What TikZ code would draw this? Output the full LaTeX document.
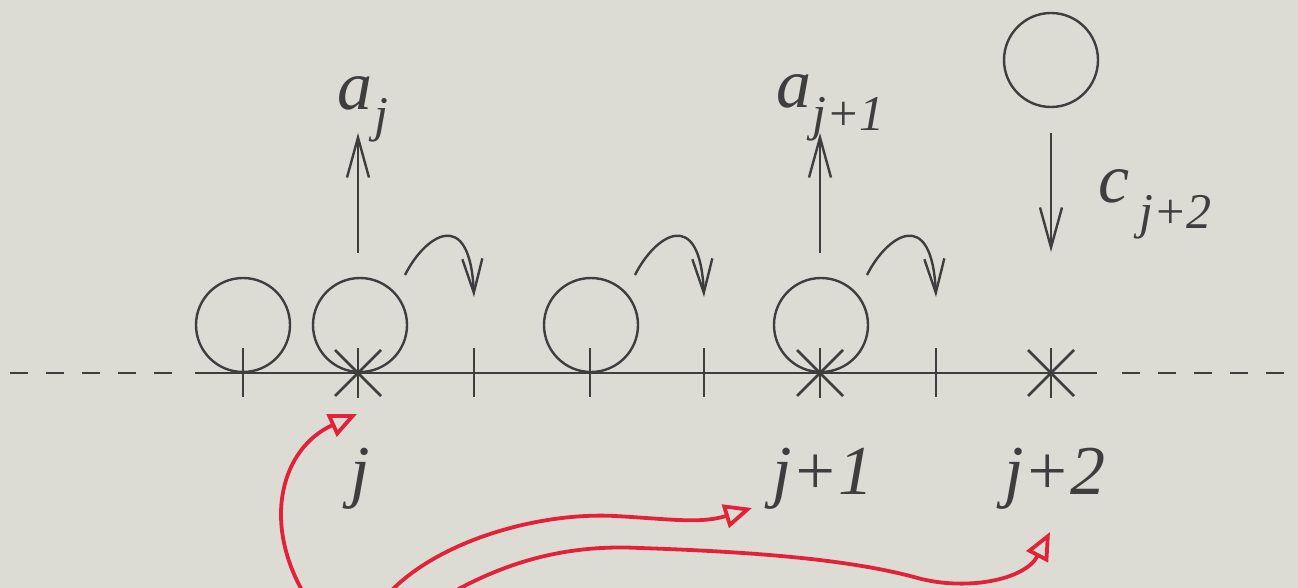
\documentclass[tikz,border=0pt]{standalone}
\usepackage{fontspec}
\setmainfont{Liberation Serif}
\usetikzlibrary{arrows.meta}
\definecolor{bg}{RGB}{220,220,213}
\definecolor{ink}{RGB}{62,62,62}
\definecolor{redink}{RGB}{226,34,56}
\begin{document}
\begin{tikzpicture}[x=1pt,y=-1pt,
  line/.style={draw=ink,line width=2.7pt},
  ball/.style={circle,draw=ink,line width=2.4pt,minimum size=94pt,inner sep=0pt},
  barb/.style={draw=ink,line width=2.4pt,-{Straight Barb[length=40pt,width=22pt]}},
  hop/.style={draw=ink,line width=2.4pt,-{Straight Barb[length=34pt,width=20pt]}},
  redarrow/.style={draw=redink,line width=3.8pt,line cap=round,line join=round,-{Triangle[open,length=28pt,width=24pt]}},
  lab/.style={inner sep=0pt,text=ink,font=\fontsize{70}{84}\selectfont\itshape},
  sublab/.style={inner sep=0pt,text=ink,font=\fontsize{50}{60}\selectfont\itshape}
]
\fill[bg] (0,0) rectangle (1298,588);
\useasboundingbox (0,0) rectangle (1298,588);

% axis
\draw[line] (195,373) -- (1097,373);
\draw[line,dash pattern=on 18pt off 18pt] (10,373) -- (178,373);
\draw[line,dash pattern=on 18pt off 18pt] (1122,373) -- (1292,373);

% ticks
\foreach \x in {243,474,590,704,936}{
  \draw[line] (\x,348) -- (\x,397);
}
% stars
\foreach \x in {358,820,1051}{
  \draw[line] (\x,348) -- (\x,398);
  \draw[line] (\x-23,350) -- (\x+23,396);
  \draw[line] (\x+23,350) -- (\x-23,396);
}

% circles
\node[ball] (b1) at (243,325) {};
\node[ball] (b2) at (360,325) {};
\node[ball] (b3) at (591,325) {};
\node[ball] (b4) at (821,325) {};
\node[ball] (b5) at (1051,60) {};

% straight arrows
\coordinate (u1s) at (358,253); \coordinate (u1e) at (358,133);
\coordinate (u2s) at (820,253); \coordinate (u2e) at (820,133);
\coordinate (d1s) at (1051,133); \coordinate (d1e) at (1051,252);
\draw[barb] (u1s) -- (u1e);
\draw[barb] (u2s) -- (u2e);
\draw[barb] (d1s) -- (d1e);

% hop arrows
\foreach \x/\n in {405/h1,635/h2,867/h3}{
  \coordinate (\n s) at (\x,275);
  \coordinate (\n e) at (\x+69,297);
  \draw[hop] (\n s) .. controls (\x+20,235) and (\x+65,205) .. (\n e);
}

% labels
\node[lab,anchor=base] (aj) at (355,110) {a};
\node[sublab,anchor=base] (ajs) at (381,132) {j};
\node[lab,anchor=base] (aj1) at (794,108) {a};
\node[sublab,anchor=base west] (aj1s) at (812,131) {j+1};
\node[lab,anchor=base] (cj) at (1114,203) {c};
\node[sublab,anchor=base west] (cjs) at (1139,229) {j+2};
\node[lab,anchor=base] (lj) at (360,494) {j};
\node[lab,anchor=base] (lj1) at (823,494) {j+1};
\node[lab,anchor=base] (lj2) at (1055,494) {j+2};

% red annotations
\coordinate (r1s) at (303,592); \coordinate (r1e) at (357,414);
\coordinate (r2s) at (390,592); \coordinate (r2e) at (752,508);
\coordinate (r3s) at (453,592); \coordinate (r3e) at (1050,532);
\draw[redarrow] (r1s) .. controls (262,520) and (282,448) .. (r1e);
\draw[redarrow] (r2s) .. controls (440,540) and (540,512) .. (615,516)
   .. controls (670,519) and (700,524) .. (r2e);
\draw[redarrow] (r3s) .. controls (520,555) and (580,545) .. (640,548)
   .. controls (760,552) and (850,560) .. (914,577)
   .. controls (965,592) and (1025,580) .. (r3e);
\end{tikzpicture}
\end{document}
